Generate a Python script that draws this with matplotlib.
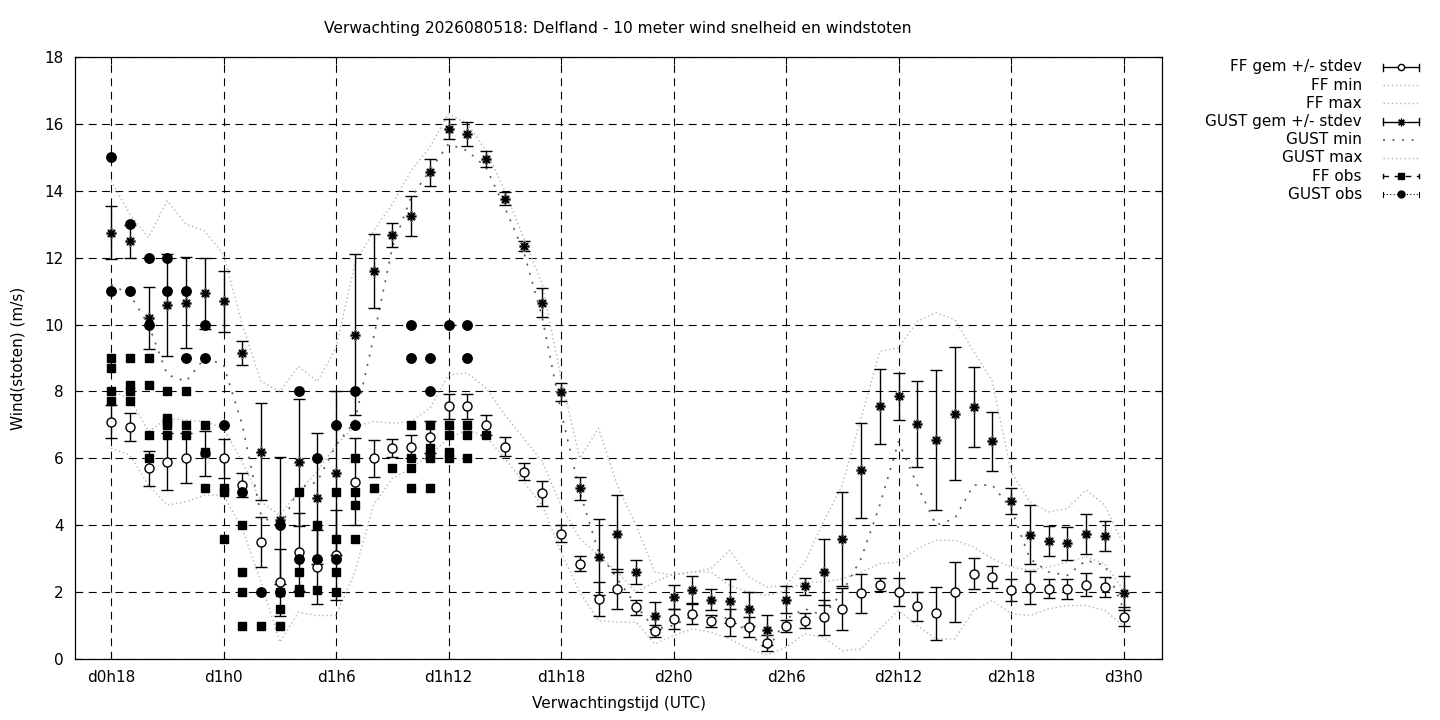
import matplotlib
matplotlib.use("Agg")
import matplotlib.pyplot as plt
from matplotlib.lines import Line2D

# forecast hours (hours after d0h0), one ensemble value per hour
HOURS = list(range(18, 73))

FF_MEAN = [7.1, 6.95, 5.7, 5.9, 6.0, 6.15, 6.0, 5.2, 3.5, 2.3,
           3.2, 2.75, 3.1, 5.3, 6.0, 6.3, 6.35, 6.65, 7.55, 7.55,
           7.0, 6.35, 5.6, 4.95, 3.75, 2.85, 1.8, 2.1, 1.55, 0.85,
           1.2, 1.35, 1.15, 1.1, 0.95, 0.48, 1.0, 1.15, 1.25, 1.5,
           1.97, 2.22, 2.0, 1.58, 1.37, 2.0, 2.55, 2.45, 2.07, 2.13,
           2.1, 2.1, 2.22, 2.14, 1.27]
FF_SD = [0.5, 0.42, 0.53, 0.85, 0.75, 0.68, 0.58, 0.35, 0.76, 1.0,
         1.18, 1.1, 1.35, 1.3, 0.55, 0.27, 0.35, 0.48, 0.38, 0.38,
         0.3, 0.28, 0.25, 0.37, 0.25, 0.22, 0.5, 0.6, 0.22, 0.18,
         0.3, 0.3, 0.18, 0.4, 0.3, 0.25, 0.18, 0.22, 0.52, 0.63,
         0.58, 0.2, 0.43, 0.43, 0.79, 0.9, 0.46, 0.33, 0.33, 0.5,
         0.28, 0.3, 0.35, 0.3, 0.28]
FF_MIN = [6.3, 6.1, 5.2, 4.6, 4.7, 4.9, 4.9, 3.9, 2.3, 0.5,
          1.4, 1.3, 1.3, 2.6, 4.6, 5.4, 5.7, 6.1, 6.6, 6.85,
          6.65, 6.0, 5.3, 4.6, 3.2, 2.0, 1.15, 1.1, 1.1, 0.45,
          0.7, 0.9, 0.8, 0.6, 0.3, 0.12, 0.35, 0.75, 0.65, 0.25,
          0.3, 0.9, 1.45, 1.0, 0.6, 0.6, 1.45, 1.75, 1.35, 1.3,
          1.5, 1.6, 1.6, 1.45, 1.0]
FF_MAX = [8.0, 7.8, 6.8, 7.2, 7.15, 7.1, 6.9, 5.9, 4.7, 4.3,
          5.0, 5.6, 6.4, 6.95, 7.1, 7.05, 7.1, 7.5, 8.5, 8.55,
          8.1, 7.3, 6.6, 5.9, 4.6, 3.6, 3.1, 2.6, 2.0, 2.3,
          2.55, 2.6, 2.6, 2.2, 2.0, 1.9, 2.05, 2.3, 2.3, 2.4,
          2.6, 2.85, 2.9, 3.3, 3.55, 3.55, 3.35, 3.0, 2.75, 2.65,
          2.75, 2.9, 3.05, 2.85, 2.05]

GUST_MEAN = [12.75, 12.49, 10.2, 10.58, 10.65, 10.93, 10.69, 9.15, 6.2, 4.15,
             5.88, 4.8, 5.55, 9.7, 11.6, 12.68, 13.25, 14.55, 15.85, 15.7,
             14.95, 13.76, 12.36, 10.65, 7.97, 5.1, 3.05, 3.74, 2.6, 1.29,
             1.85, 2.07, 1.77, 1.74, 1.49, 0.88, 1.77, 2.17, 2.6, 3.58,
             5.65, 7.55, 7.86, 7.02, 6.55, 7.34, 7.53, 6.51, 4.73, 3.71,
             3.53, 3.46, 3.73, 3.67, 1.97]
GUST_SD = [0.78, 0.5, 0.93, 1.53, 1.36, 1.07, 0.92, 0.37, 1.45, 1.9,
           1.9, 1.95, 2.45, 2.4, 1.1, 0.35, 0.6, 0.4, 0.3, 0.35,
           0.25, 0.2, 0.15, 0.43, 0.27, 0.34, 1.15, 1.15, 0.37, 0.4,
           0.35, 0.4, 0.31, 0.65, 0.5, 0.45, 0.4, 0.26, 1.0, 1.4,
           1.42, 1.13, 0.7, 1.29, 2.09, 1.98, 1.2, 0.88, 0.38, 0.88,
           0.46, 0.49, 0.6, 0.45, 0.5]
GUST_MIN = [11.2, 10.9, 10.0, 8.5, 8.3, 9.0, 8.8, 7.0, 4.3, 3.9,
            5.1, 5.3, 6.4, 7.1, 9.6, 12.3, 13.8, 14.6, 15.4, 15.2,
            14.7, 13.5, 12.2, 10.2, 7.4, 5.0, 3.2, 2.4, 1.6, 0.9,
            1.0, 1.3, 1.3, 1.2, 0.8, 0.25, 1.2, 1.5, 1.3, 2.0,
            3.0, 4.6, 6.5, 5.2, 4.0, 4.2, 5.2, 5.2, 4.5, 3.0,
            2.6, 2.5, 2.95, 2.8, 1.5]
GUST_MAX = [14.3, 13.3, 12.6, 13.7, 13.0, 12.8, 12.1, 10.0, 8.3, 8.0,
            8.75, 8.3, 9.3, 11.8, 12.8, 13.6, 14.6, 15.3, 16.3, 16.0,
            15.2, 14.0, 12.6, 11.2, 8.4, 6.0, 6.9, 5.2, 4.0, 2.6,
            2.5, 2.6, 2.7, 3.25, 2.45, 2.15, 2.2, 2.9, 4.1, 5.2,
            7.2, 9.2, 9.3, 10.1, 10.35, 10.15, 9.2, 8.3, 5.6, 4.7,
            4.4, 4.5, 5.05, 4.6, 3.4]

# observations (several per hour)
FF_OBS_HOUR = [18, 18, 18, 18, 19, 19, 19, 19, 20, 20, 20, 20,
               21, 21, 21, 21, 21, 22, 22, 22, 23, 23, 23, 24, 24, 24,
               25, 25, 25, 25, 26, 27, 27, 27, 28, 28, 28, 28, 29, 29,
               30, 30, 30, 30, 31, 31, 31, 31, 32, 33, 34, 34, 34, 34,
               35, 35, 35, 35, 35, 36, 36, 36, 36, 37, 37, 37, 38]
FF_OBS = [9.0, 8.7, 8.0, 7.7, 9.0, 8.2, 8.0, 7.7, 9.0, 8.2, 6.7, 6.0,
          8.0, 7.2, 7.1, 7.0, 6.7, 8.0, 7.0, 6.7, 7.0, 6.2, 5.1, 5.1, 5.0, 3.6,
          4.0, 2.6, 2.0, 1.0, 1.0, 2.0, 1.5, 1.0, 5.0, 2.6, 2.1, 2.0, 4.0, 2.05,
          5.0, 3.6, 2.6, 2.0, 6.0, 5.0, 4.6, 3.6, 5.1, 5.7, 7.0, 6.0, 5.7, 5.1,
          7.0, 6.3, 6.1, 6.0, 5.1, 7.0, 6.7, 6.2, 6.0, 7.0, 6.7, 6.0, 6.7]
GUST_OBS_HOUR = [18, 18, 19, 19, 20, 20, 21, 21, 22, 22, 23, 23, 24, 25, 26,
                 27, 27, 28, 28, 29, 29, 30, 30, 31, 31, 34, 34, 35, 35, 36,
                 37, 37]
GUST_OBS = [15.0, 11.0, 13.0, 11.0, 12.0, 10.0, 12.0, 11.0, 11.0, 9.0, 10.0, 9.0,
            7.0, 5.0, 2.0, 4.0, 2.0, 8.0, 3.0, 6.0, 3.0, 7.0, 3.0, 8.0, 7.0,
            10.0, 9.0, 9.0, 8.0, 10.0, 10.0, 9.0]

TICK_HOURS = list(range(18, 73, 6))
TITLE = "Verwachting 2026080518: Delfland - 10 meter wind snelheid en windstoten"

LIGHT = "#b4b4b4"
DARK = "#5a5a5a"
FF_DOTS = (0, (1, 2))
GUST_MIN_DOTS = (0, (1.2, 4.5))
W, H = 1440, 720

fig = plt.figure(figsize=(W / 100, H / 100), dpi=100)
ax = fig.add_axes([75 / W, 1 - 659 / H, (1162 - 75) / W, (659 - 57) / H])

# min / max envelopes
ax.plot(HOURS, FF_MIN, color=LIGHT, lw=1, ls=FF_DOTS, zorder=2)
ax.plot(HOURS, FF_MAX, color=LIGHT, lw=1, ls=FF_DOTS, zorder=2)
ax.plot(HOURS, GUST_MIN, color=DARK, lw=1.2, ls=GUST_MIN_DOTS, zorder=2)
ax.plot(HOURS, GUST_MAX, color=LIGHT, lw=1, ls=FF_DOTS, zorder=2)

# ensemble mean +/- stdev
ax.errorbar(HOURS, FF_MEAN, yerr=FF_SD, fmt="o", ms=6.5, mfc="white",
            mec="black", mew=1, ecolor="black", elinewidth=1.0,
            capsize=4.5, capthick=1.0, zorder=4)
ax.errorbar(HOURS, GUST_MEAN, yerr=GUST_SD, fmt="none", ecolor="black",
            elinewidth=1.0, capsize=4.5, capthick=1.0, zorder=4)
ax.plot(HOURS, GUST_MEAN, ls="none", marker=(8, 2, 0), ms=7.5, mec="#7a7a7a",
        mew=1.6, zorder=5)
ax.plot(HOURS, GUST_MEAN, ls="none", marker=(8, 2, 0), ms=6, mec="black",
        mew=1.0, zorder=5)

# observations
ax.plot(FF_OBS_HOUR, FF_OBS, ls="none", marker="s", ms=6.2, color="black", zorder=6)
ax.plot(GUST_OBS_HOUR, GUST_OBS, ls="none", marker="o", ms=6.8, color="black", zorder=6)

ax.set_xlim(16.08, 74.05)
ax.set_ylim(0, 18)
ax.set_xticks(TICK_HOURS)
ax.set_xticklabels([f"d{h // 24}h{h % 24}" for h in TICK_HOURS])
ax.set_yticks(range(0, 19, 2))
ax.tick_params(direction="in", top=True, right=True, length=5, width=0.8,
               labelsize=11, pad=8)
ax.grid(True, color="black", lw=0.8, ls=(0, (7, 5)))
for s in ax.spines.values():
    s.set_linewidth(0.9)

ax.set_xlabel("Verwachtingstijd (UTC)", fontsize=11, labelpad=8)
ax.set_ylabel("Wind(stoten) (m/s)", fontsize=11, labelpad=14)
fig.text(618 / W, 1 - 29 / H, TITLE, ha="center", va="center", fontsize=11.2)

# ── legend, gnuplot style: right-aligned text, sample to the right ──
x0, x1 = 1383 / W, 1419 / W
xm = (x0 + x1) / 2
cap = 3.5 / H


def seg(xs, ys, **kw):
    fig.add_artist(Line2D(xs, ys, transform=fig.transFigure, **kw))


labels = ["FF gem +/- stdev", "FF min", "FF max", "GUST gem +/- stdev",
          "GUST min", "GUST max", "FF obs", "GUST obs"]
for i, lab in enumerate(labels):
    y = 1 - (67 + 18.2 * i) / H
    fig.text(1362 / W, y, lab, ha="right", va="center", fontsize=11)
    if lab in ("FF gem +/- stdev", "GUST gem +/- stdev"):
        seg([x0, x1], [y, y], color="black", lw=1.0)
        seg([x0, x0], [y - cap, y + cap], color="black", lw=1.0)
        seg([x1, x1], [y - cap, y + cap], color="black", lw=1.0)
        if lab.startswith("FF"):
            seg([xm], [y], marker="o", ms=4.5, mfc="white", mec="black", ls="none")
        else:
            seg([xm], [y], marker=(8, 2, 0), ms=5.5, mec="black", mew=0.9, ls="none")
    elif lab == "GUST min":
        seg([x0, x1], [y, y], color=DARK, lw=1.2, ls=GUST_MIN_DOTS)
    elif lab in ("FF min", "FF max", "GUST max"):
        seg([x0, x1], [y, y], color=LIGHT, lw=1, ls=FF_DOTS)
    elif lab == "FF obs":
        seg([x0, x1], [y, y], color="black", lw=1, ls=(0, (4, 4)))
        seg([x0, x0], [y - cap * 0.6, y + cap * 0.6], color="black", lw=1)
        seg([x1, x1], [y - cap * 0.6, y + cap * 0.6], color="black", lw=1)
        seg([xm], [y], marker="s", ms=5, color="black", ls="none")
    else:
        seg([x0, x1], [y, y], color="black", lw=0.8, ls=(0, (1, 2)))
        seg([x0, x0], [y - cap * 0.6, y + cap * 0.6], color="black", lw=0.8)
        seg([x1, x1], [y - cap * 0.6, y + cap * 0.6], color="black", lw=0.8)
        seg([xm], [y], marker="o", ms=5, color="black", ls="none")

fig.savefig("out.png", dpi=100, facecolor="white")
